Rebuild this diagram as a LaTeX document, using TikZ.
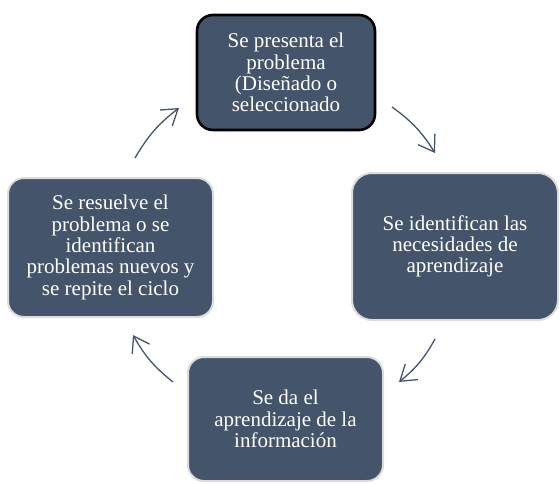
\documentclass[tikz,border=0pt]{standalone}
\usepackage{fontspec}
\setmainfont{Liberation Serif}
\usetikzlibrary{arrows.meta}
\definecolor{boxfill}{HTML}{44546A}
\definecolor{boxedge}{HTML}{DCDCDC}
\tikzset{
  cyclebox/.style={rounded corners=16pt, fill=boxfill, draw=boxedge, line width=2pt,
    text=white, align=center, font=\fontsize{21}{21.3}\selectfont, inner sep=0pt},
  topbox/.style={cyclebox, draw=black, line width=2.6pt},
  cyclearrow/.style={draw=boxfill, line width=1.3pt, bend left=11,
    -{Straight Barb[length=15pt,width=20pt,line width=1.3pt]}}
}
\begin{document}
\begin{tikzpicture}[x=1pt,y=-1pt]
\useasboundingbox (0,0) rectangle (560,483);
\node[topbox, minimum width=178pt, minimum height=115pt] (top) at (286,72.5)
  {Se presenta el\\problema\\(Diseñado o\\seleccionado};
\node[cyclebox, minimum width=206pt, minimum height=147pt, rounded corners=20pt] (right) at (455,246.5)
  {Se identifican las\\necesidades de\\aprendizaje};
\node[cyclebox, minimum width=195pt, minimum height=124pt] (bottom) at (285.5,419)
  {Se da el\\aprendizaje de la\\información};
\node[cyclebox, minimum width=205pt, minimum height=139pt] (left) at (110.5,247.5)
  {Se resuelve el\\problema o se\\identifican\\problemas nuevos y\\se repite el ciclo};
\coordinate (a1s) at (392,107); \coordinate (a1e) at (435,153);
\coordinate (a2s) at (435,339); \coordinate (a2e) at (399,382);
\coordinate (a3s) at (173,382); \coordinate (a3e) at (133,335);
\coordinate (a4s) at (135,158); \coordinate (a4e) at (179,108);
\draw[cyclearrow] (a1s) to (a1e);
\draw[cyclearrow] (a2s) to (a2e);
\draw[cyclearrow] (a3s) to (a3e);
\draw[cyclearrow] (a4s) to (a4e);
\end{tikzpicture}
\end{document}
